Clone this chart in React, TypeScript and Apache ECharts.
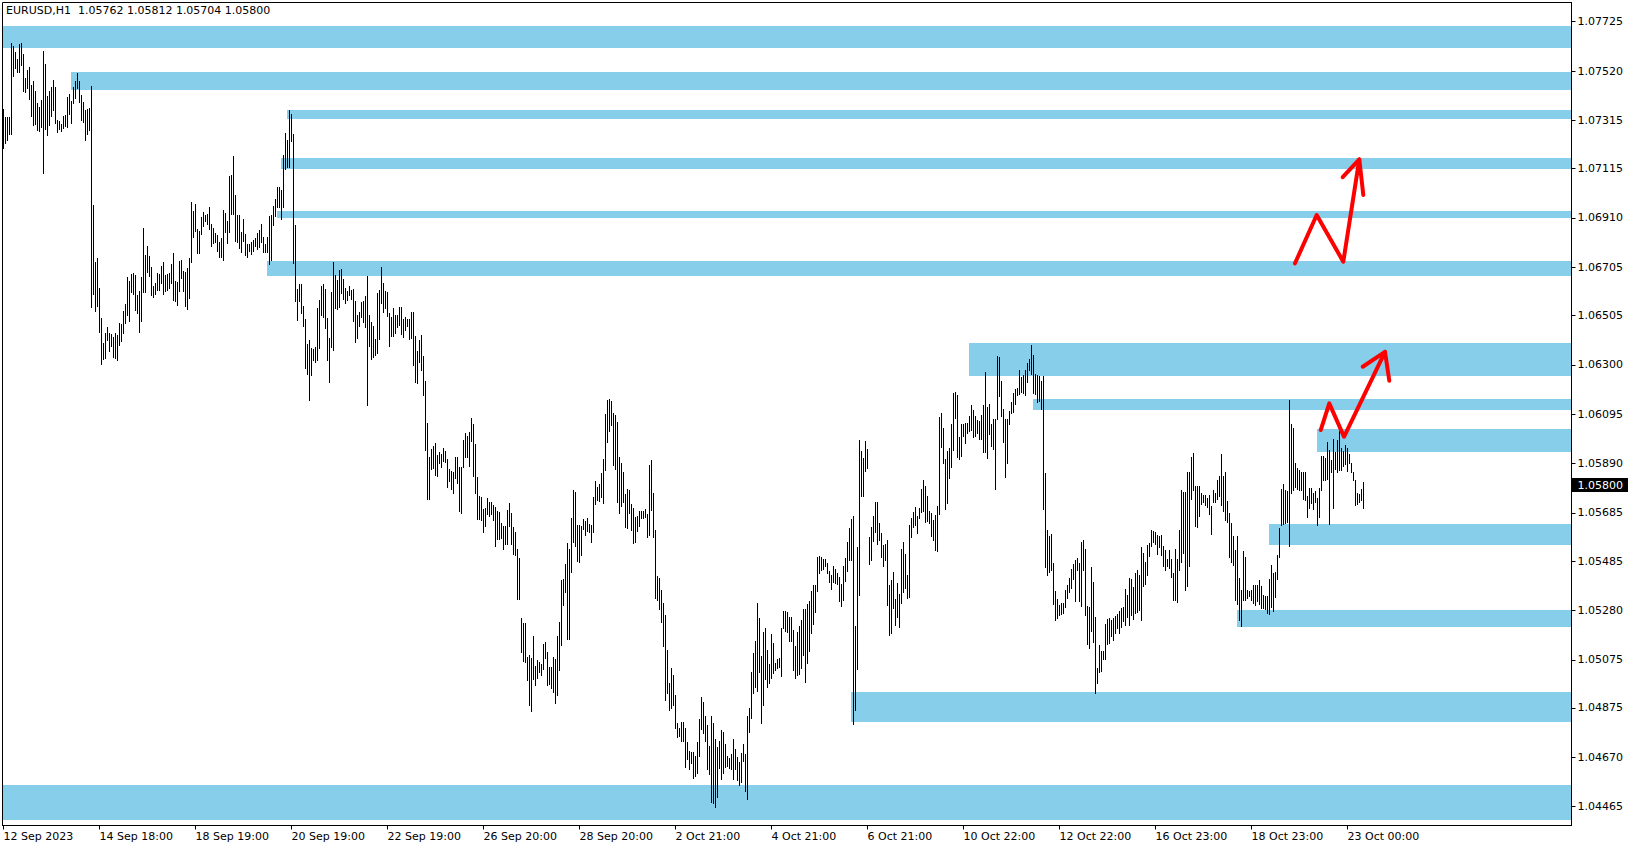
import React, { useEffect, useRef } from "react";
import * as echarts from "echarts";

const FONT = "DejaVu Sans";
const BASE = 1.04; // bar values are pips above this price

// hourly bar highs (pips above BASE), bars 0..680
const highs = [
336.1,333,333,333,363.5,362.4,360,357,363.2,363.5,
359,349,352.4,353.7,346.2,347.9,343.7,338.9,336.9,340,
360.3,354.9,341.6,343.9,345.4,348.2,345.4,331.7,331.1,330,
333.3,333.8,341.1,342.5,339.7,345.4,347.9,351.1,347.9,342.1,
339.2,335.8,336.1,336.7,345.8,296.4,272.7,274.4,261.9,249.5,
239.1,243.4,245.7,243.4,242.7,241.6,243,242.4,247.4,247,
252.4,255.3,266.5,264.8,267.7,268.2,267.3,258.9,260.8,266.5,
286.8,275.6,279.4,275.2,270.6,262.9,264,268.2,267.7,271.1,
272.7,267.3,267.7,268.2,271.9,276.5,264.8,264.4,273.1,273.6,
269,268.6,270.2,274.4,297.6,293.9,296.8,286.4,285.6,291.4,
293.5,292.2,292.7,295.6,288.5,286.8,284.8,283.9,281,282.7,
294.3,293.1,289.7,308.4,308.8,316.7,300.5,292.2,292.2,285.2,
290.6,284.3,280.2,280.2,281,281.9,282.7,284.8,286,288.5,
283.1,280.2,283.1,291.8,292.2,296,298.9,303.9,303.9,302.6,
317.1,326.3,323.4,335.8,334.2,325.9,288.1,261.5,263.6,
263.5,254.4,249,238.6,240.3,237.1,236.7,237.5,253.6,256.9,262.7,
263.5,261.5,249.4,241.1,260.2,272.7,267.3,265.2,269.3,269.8,
265.6,261.9,260.6,262.7,261,261.5,256.5,250.7,251.9,256.1,
256.5,258.5,267,250.7,247.9,246.1,240.8,259.8,261,270.6,
263.9,260.6,260.2,251.5,249.8,253.6,250.7,250.7,254,254,
249,249.8,249.1,249,251.9,251.9,241.9,235.8,240.4,242.3,
233.8,223.4,205.9,191.7,195,196.3,197.5,192.7,193.8,192.8,
195.4,194.2,191,186.8,186.1,185.5,191.7,191.7,187.7,187.7,
198.7,201.6,200.5,202.1,207.9,205.5,197.2,183.4,175.5,175.2,
170.2,170.6,174.7,173,173,171.7,170.9,169.3,168.8,164.3,
163.2,163,169.8,172.6,168.4,162.8,160.5,153.6,149.7,124.8,
122.7,122.7,108.8,109.5,108.2,117.5,105,107.4,106.7,105.7,
114,114.9,110.7,104.6,104.5,108.8,107.8,117.3,123.2,140.6,
140.9,147.2,156.1,153.5,166.5,178,177.1,163.4,163.3,163.2,
166,165.1,166.4,163.9,163.5,175.1,181.8,179.3,180.5,185.1,
190.9,209.6,215.4,215.8,215,210,209.2,206.3,191.6,189.4,
185.5,176.4,178.4,178,172.2,170.5,166.9,167.2,169.3,169.3,
169.4,170.1,168.2,188.4,190.5,176.8,161.4,142.3,141.5,136.5,
131.2,126.1,111.6,98,104.1,101.3,92.9,81.4,79.2,81.8,
81.8,79.2,73.5,69.6,69.3,69.1,67.6,73.5,82.9,92.1,
90.1,84,80.4,71.8,84.2,81.4,74.6,71.4,73.9,78.3,
77.5,72.4,67.7,66.9,68.5,74.6,70.5,67.3,65.2,68.9,
72.7,68.5,84.2,87.6,102.4,110.5,115.4,131.2,125,109.2,
119.2,120.8,111.7,105.9,118.4,114.6,106.3,107.7,108.4,120.8,
127.9,127.9,127.5,125.4,125.4,120,113.4,119.2,121.7,124.2,
128.7,128.7,130.8,132.1,136.2,138.7,138.7,150.3,150.7,150.3,
149.5,149.4,147.8,144.5,142.9,146.6,145.3,143.7,142,139.1,
146.5,149.9,156.4,162.2,166.1,167.4,121.5,154.5,198.8,194.4,
191.3,198.4,195,158.5,162.6,167.2,173,173,164.3,160.1,
155.2,155.6,157.2,138.5,140.6,143.9,132.8,139.4,134.8,153.5,
156.4,151.4,142.7,163.5,166.4,168.9,170.9,167.2,170.5,178.4,
182.2,179.7,175.5,169.3,168.5,165.5,167.6,171.4,208.3,210,
203.7,190.9,194.2,195.4,205.4,218.3,218.7,217.5,200,205.4,
205.4,205.8,205.8,208.7,213.3,211.2,208.7,207.1,206.7,209.2,
213.3,227,212.5,213.7,205.4,207.5,207.5,233.7,233.2,223.3,
211.6,207.5,207.5,210.8,214.6,218.3,219.9,220.4,227.8,224.9,
225.8,227.8,230.7,232.4,238.2,234.1,226.2,225.8,225.3,223.3,
225.3,185.1,161.4,158.9,159.7,147.7,136.1,132.7,130.2,131.1,
131.1,136.5,138.6,141.5,145.2,147.3,148.9,149.8,147.7,156.4,
157.3,153.5,129.8,129.4,146,139.8,125.3,104.1,113.6,111.2,
111.2,122.5,124.6,124.9,124,124.9,125.7,126.5,127.8,129,
129.4,136.9,134.4,141.5,141.2,137.7,143.5,144.8,142.7,154.3,
151.9,148.1,155.2,156,161.4,161,160.6,159.3,158.9,159.3,
154.8,153.1,149.4,153.1,149.4,143.5,153.5,149.4,161.4,178,
177.2,177.2,185.5,185.5,191.7,193.4,179.7,179.7,179.7,176.6,
175.9,175.9,174.7,175.9,171.4,178,176.8,182.2,183.8,193,
183.8,185.5,173.5,168.5,164.3,158.9,153.1,158.9,141.5,136.5,
152.7,150.2,136.5,136.1,136.5,138.6,138.6,138.6,140.6,138.1,
134.4,134,134,141.1,146.9,143.5,144,151,162.2,178.4,
180.5,178,177.6,215.4,205.4,203.8,189.2,187.2,186.3,185.5,
185.5,185.5,175.5,178.8,178.8,176.8,177.6,174.7,178.8,192.1,
192.1,191.3,198,194.6,190.5,199.2,193.8,198.8,202.5,195.5,
194.2,196.7,195.5,193,189.2,185.5,182.2,176.8,176.4,178.4,181.2
];

// hourly bar lows (pips above BASE), bars 0..680
const lows = [
320.2,322,323.5,326,326,350,353.4,351.6,351.6,354.5,
343.7,343.3,345,340.4,333.3,329.7,330.2,327.7,327.1,328.6,
309.7,328.1,325.5,329.6,333.3,335.8,330.4,326.7,327.9,327.1,
328.5,329.2,328.8,334,330.4,338.9,341,344.8,339.3,331.8,
331,323.4,325.9,327.5,254.2,259.4,252.5,254.6,243.8,230.5,
232.2,233,240.3,235.8,237.8,233.4,233,231.8,238.3,239.9,
243,247.3,250.7,248.2,260.1,259.4,252.8,251.5,243.8,248.2,
260.4,260.4,268.4,266.9,259,258.3,259.6,261.1,261.1,264,
259.6,260.7,261.1,262.1,263.9,256.9,256.5,254.9,260.7,266.1,
260.7,254.5,253.2,257.8,272.7,283.1,285.6,276.5,276.5,284.5,
287.8,289.7,288.5,286.4,279.4,280.6,281,277.3,274.8,274.8,
273.6,285.2,280.6,285.2,292.6,292.6,281.4,281,278.5,276.9,
281.4,275.6,274.8,277.3,276,277.3,279.4,278.1,278.9,281,
276.9,276.9,276.9,271.9,273.6,288.1,291.8,295.6,295.7,290.6,
295.6,311.3,312.2,312.2,323,272.3,256.5,248.6,256.5,
251.6,246.2,228.8,226.3,215.5,225.9,232.1,231.3,232.1,237.1,250.7,
250,245.4,232.1,223,237.5,236.3,253.6,253.3,254,259.9,
257.4,255.6,256.9,259.1,257.4,248.2,239.6,241.1,246.2,250,
247.9,245.8,213.4,237.9,232.5,233.3,234.2,235,240.7,255.8,
252,253.6,250.2,237.9,242.1,242.1,243.3,245.8,246.6,242.9,
241.7,244.6,246.2,240.8,241.2,230,223,222.6,231.3,228,
217.6,194.7,174.4,174.4,186.8,187.1,184.3,183.8,189.3,187.7,
190,189.7,179.4,181.9,178.5,176.9,183,181,169.3,168.6,
187.4,191.8,191.8,187.9,198.5,183.9,176.9,166.1,166.1,165.7,
160.5,163,168,167.3,168,165.5,154.9,157.6,157.6,158.2,
153.5,155.6,155.6,163.2,155.6,151.4,151,132.8,132.8,110.7,
107.1,106.7,99.2,88.7,86.3,99.5,97.1,99.9,102.4,101,
103.6,108.2,97.1,97.5,95.9,94.2,89.7,93,103.4,113.6,
130.4,135.8,116.2,116.2,144.1,156.5,154.9,148.6,148.2,151.2,
161.7,159.5,161.1,160.7,156.6,160.7,172.3,174,173.6,175.2,
172.8,186.5,198.1,202.7,205.2,188.5,186.9,173.2,168.6,171.5,
173.2,162.8,162.4,168.6,161.5,156.1,156.6,161.1,163.2,166.5,
166.5,166.9,158.6,159.5,169.9,158.6,133.3,132.5,128.7,123.3,
113.4,90.9,93.9,86.8,87.6,88.9,79.3,75.6,76,73.9,
73.9,63.1,66.4,62.3,64.8,58.3,59.4,60.6,67.7,78.8,
77.2,73.9,62.3,60.2,48.4,48.2,46.5,50.4,62.6,58.1,
60.4,63.1,63.4,62.4,62.3,58.1,62.3,57.7,55.6,56.8,
65.6,52.9,49.8,77.7,83.5,93.9,96.3,94.7,102.6,81.4,
88.9,99.7,96.3,97.9,100.1,102.2,103.4,104.2,104.6,100.9,
120.6,119.6,119.2,115.4,115.4,103.4,100.1,101.3,101.7,104.2,
109.6,98.4,106.3,111.3,118.8,122.5,127.5,136.2,143.5,144.9,
145.3,146.6,143.4,139.9,137,139.8,139.4,139,132.1,130,
132.3,140.4,144.5,149.1,149.1,81,86.8,103.8,134.6,175.7,
175.7,185.8,187.3,147.3,149,156.8,160.6,155.6,157.2,150.2,
146.4,149,130.2,117.8,118.6,129,121.9,125.3,121.1,131.1,
135.6,137.3,133.2,133.6,158.5,162.6,163.5,160.1,166.4,168.9,
169.3,164.7,165.1,164.3,158.9,157.2,153.1,152.7,168,195.9,
189.2,170.1,172.6,183,187.6,194.6,207.9,191.7,190.9,192.1,
200.4,197.5,201.7,202.5,202.9,200,200.4,201.7,199.2,199.2,
193.8,193.8,191.3,201.3,196.3,195,178.4,207.5,217,208.7,
197.9,183.4,189.2,205.4,210,210.4,213.7,217.5,217.9,218.7,
218.3,217.5,222.8,227.8,226.2,218.3,217.9,214.6,215,211.6,
170.1,146,142.7,144,144.8,130.7,124,125,126.1,126.5,
126.9,129.4,133.2,135.7,137.3,141.1,131.9,144.8,131.9,129.8,
144.8,126.1,114.1,112.4,119.5,114.9,93.9,98,102.6,103,
108,108,113.9,114.5,117.4,115.7,118.6,120.7,118.6,121.1,
123.6,122,125.3,122,126.1,124.4,126.8,127.4,128.2,124,
138.1,139,142.7,150.6,154.8,156.4,155.6,151.4,154.3,151,
146.5,144.8,146.5,145.6,141.9,132.3,132.3,131.5,144.8,148.1,
151.7,136.5,138.1,146.6,174.3,178,163.1,162.7,167.2,172.2,
173,171.8,171,168.1,159.7,173,173,174.3,175.5,171.8,
169.3,165.6,164.7,150.3,148.1,146.9,132.3,130.7,124,121.5,
132.3,132.3,133.2,134,132.3,131.1,130.3,131.9,130.7,129,
129,128.6,126.9,126.5,129.6,127.8,133.6,141.1,150.2,163.5,
163.9,164.3,164.7,154.8,176.8,178,179.3,178.4,178,178,
174.3,173.9,166.8,170.5,172.6,170.1,173,163.5,166.8,178,
182.2,182.2,182.6,163.9,185.5,170.5,186.7,185.5,186.3,186.3,
188,188.8,185.9,189.2,185.5,182.2,171.8,172.2,173,173.9,170.4
];

// x-axis ticks (bar index) and their labels
const xTickIdx = [0, 48, 96, 144, 192, 240, 288, 336, 384, 432, 480, 528, 576, 624, 672];
const xLabels = [
  "12 Sep 2023", "14 Sep 18:00", "18 Sep 19:00", "20 Sep 19:00", "22 Sep 19:00",
  "26 Sep 20:00", "28 Sep 20:00", "2 Oct 21:00", "4 Oct 21:00", "6 Oct 21:00",
  "10 Oct 22:00", "12 Oct 22:00", "16 Oct 23:00", "18 Oct 23:00", "23 Oct 00:00",
];

// y-axis tick labels (prices)
const yTicks = [
  "1.07725", "1.07520", "1.07315", "1.07115", "1.06910", "1.06705", "1.06505", "1.06300",
  "1.06095", "1.05890", "1.05685", "1.05485", "1.05280", "1.05075", "1.04875", "1.04670", "1.04465",
];

// supply/demand zones: start bar, upper price, lower price
const zoneStart = [-0.25, 33.75, 141.75, 138.75, 136.75, 131.75, 482.75, 514.75, 656.75, 632.75, 616.75, 423.75, -0.25];
const zoneTop = [1.07707, 1.07516, 1.07358, 1.07159, 1.06939, 1.06731, 1.06391, 1.06158, 1.06033, 1.05639, 1.05282, 1.04941, 1.04555];
const zoneBottom = [1.07617, 1.07442, 1.07322, 1.07114, 1.06911, 1.06670, 1.06255, 1.06112, 1.05939, 1.05553, 1.05212, 1.04818, 1.04411];

// hand-drawn red arrows (bar index, price)
const arrowUpX = [645.75, 656.6, 669.9, 677.9];
const arrowUpY = [1.067215, 1.06922, 1.06728, 1.07153];
const arrowUpHeadX = [669.6, 677.9, 679.9];
const arrowUpHeadY = [1.07079, 1.07153, 1.07005];
const arrowLowX = [658.6, 662.9, 670.25, 690.75];
const arrowLowY = [1.06029, 1.0614, 1.06001, 1.06354];
const arrowLowHeadX = [679.6, 690.75, 692.9];
const arrowLowHeadY = [1.06292, 1.06354, 1.06234];

const SYMBOL_TEXT = "EURUSD,H1  1.05762 1.05812 1.05704 1.05800";
const LAST_PRICE = 1.058;
const LAST_PRICE_TEXT = "1.05800";

const X_MIN = -0.5;
const X_MAX = 784;
const Y_MIN = 1.043867;
const Y_MAX = 1.078046;

export default function App() {
  const ref = useRef<HTMLDivElement>(null);

  useEffect(() => {
    if (!ref.current) return;
    const chart = echarts.init(ref.current, null, { renderer: "svg" });

    const n = Math.min(highs.length, lows.length);
    const barData: number[][] = [];
    for (let i = 0; i < n; i++) {
      barData.push([i, BASE + highs[i] / 10000, BASE + lows[i] / 10000]);
    }
    const zoneData = zoneStart.map((s, i) => [s, zoneTop[i], zoneBottom[i]]);
    const pair = (xs: number[], ys: number[]) => xs.map((x, i) => [x, ys[i]]);

    const arrowStyle = { color: "#ff0000", width: 4, cap: "round", join: "round" };
    const arrowSeries = (data: number[][]) => ({
      type: "line",
      data,
      symbol: "none",
      showSymbol: false,
      silent: true,
      z: 10,
      lineStyle: arrowStyle,
    });

    const txt = { color: "#000", fontFamily: FONT, fontSize: 11 };

    chart.setOption({
      animation: false,
      backgroundColor: "#ffffff",
      grid: {
        left: 2.5,
        right: 63.5,
        top: 2.5,
        bottom: 24.5,
        show: true,
        borderColor: "#000",
        borderWidth: 1,
        backgroundColor: "#ffffff",
        containLabel: false,
        outerBoundsMode: "none",
      },
      xAxis: {
        type: "value",
        min: X_MIN,
        max: X_MAX,
        splitLine: { show: false },
        axisLine: { show: true, onZero: false, lineStyle: { color: "#000", width: 1 } },
        axisTick: { show: true, length: 4, customValues: xTickIdx, lineStyle: { color: "#000" } },
        axisLabel: {
          ...txt,
          customValues: xTickIdx,
          align: "left",
          margin: 5,
          formatter: (v: number) => xLabels[Math.round(v / 48)] ?? "",
        },
      },
      yAxis: {
        type: "value",
        position: "right",
        min: Y_MIN,
        max: Y_MAX,
        scale: true,
        splitLine: { show: false },
        axisLine: { show: true, onZero: false, lineStyle: { color: "#000", width: 1 } },
        axisTick: { show: true, length: 4, customValues: yTicks.map(Number), lineStyle: { color: "#000" } },
        axisLabel: {
          ...txt,
          customValues: yTicks.map(Number),
          margin: 6,
          formatter: (v: number) => v.toFixed(5),
        },
      },
      graphic: [
        {
          type: "text",
          left: 6,
          top: 5,
          z: 100,
          style: { text: SYMBOL_TEXT, fill: "#000", font: `11px "${FONT}"` },
        },
      ],
      series: [
        {
          type: "custom",
          name: "zones",
          data: zoneData,
          encode: { x: 0, y: [1, 2] },
          silent: true,
          z: 1,
          renderItem: (_p: any, api: any) => {
            const a = api.coord([api.value(0), api.value(1)]);
            const b = api.coord([X_MAX, api.value(2)]);
            const x0 = Math.round(a[0]);
            const x1 = Math.floor(b[0]);
            const y0 = Math.round(a[1]);
            const y1 = Math.round(b[1]);
            return {
              type: "rect",
              shape: { x: x0, y: y0, width: x1 - x0, height: y1 - y0 },
              style: { fill: "#87CEEB" },
            };
          },
        },
        {
          type: "custom",
          name: "EURUSD",
          data: barData,
          encode: { x: 0, y: [1, 2] },
          silent: true,
          z: 3,
          renderItem: (_p: any, api: any) => {
            const i = api.value(0);
            const t = api.coord([i, api.value(1)]);
            const b = api.coord([i, api.value(2)]);
            const x = Math.floor(t[0]) + 0.5;
            return {
              type: "line",
              shape: { x1: x, y1: Math.round(t[1]), x2: x, y2: Math.round(b[1]) + 1 },
              style: { stroke: "#000", lineWidth: 1 },
            };
          },
        },
        {
          type: "custom",
          name: "lastPrice",
          data: [[X_MAX, LAST_PRICE]],
          encode: { x: 0, y: 1 },
          silent: true,
          clip: false,
          z: 20,
          renderItem: (_p: any, api: any) => {
            const c = api.coord([api.value(0), api.value(1)]);
            const x = Math.floor(c[0]) + 1;
            const y = Math.round(c[1]);
            return {
              type: "group",
              children: [
                {
                  type: "rect",
                  shape: { x, y: y - 7, width: 56, height: 14 },
                  style: { fill: "#000" },
                },
                {
                  type: "text",
                  x: x + 5.5,
                  y: y,
                  style: {
                    text: LAST_PRICE_TEXT,
                    fill: "#fff",
                    font: `11px "${FONT}"`,
                    verticalAlign: "middle",
                    align: "left",
                  },
                },
              ],
            };
          },
        },
        arrowSeries(pair(arrowUpX, arrowUpY)),
        arrowSeries(pair(arrowUpHeadX, arrowUpHeadY)),
        arrowSeries(pair(arrowLowX, arrowLowY)),
        arrowSeries(pair(arrowLowHeadX, arrowLowHeadY)),
      ],
    });

    return () => chart.dispose();
  }, []);

  return (
    <div
      ref={ref}
      style={{ position: "absolute", left: 0, top: 0, width: 1635, height: 850, background: "#fff" }}
    />
  );
}
